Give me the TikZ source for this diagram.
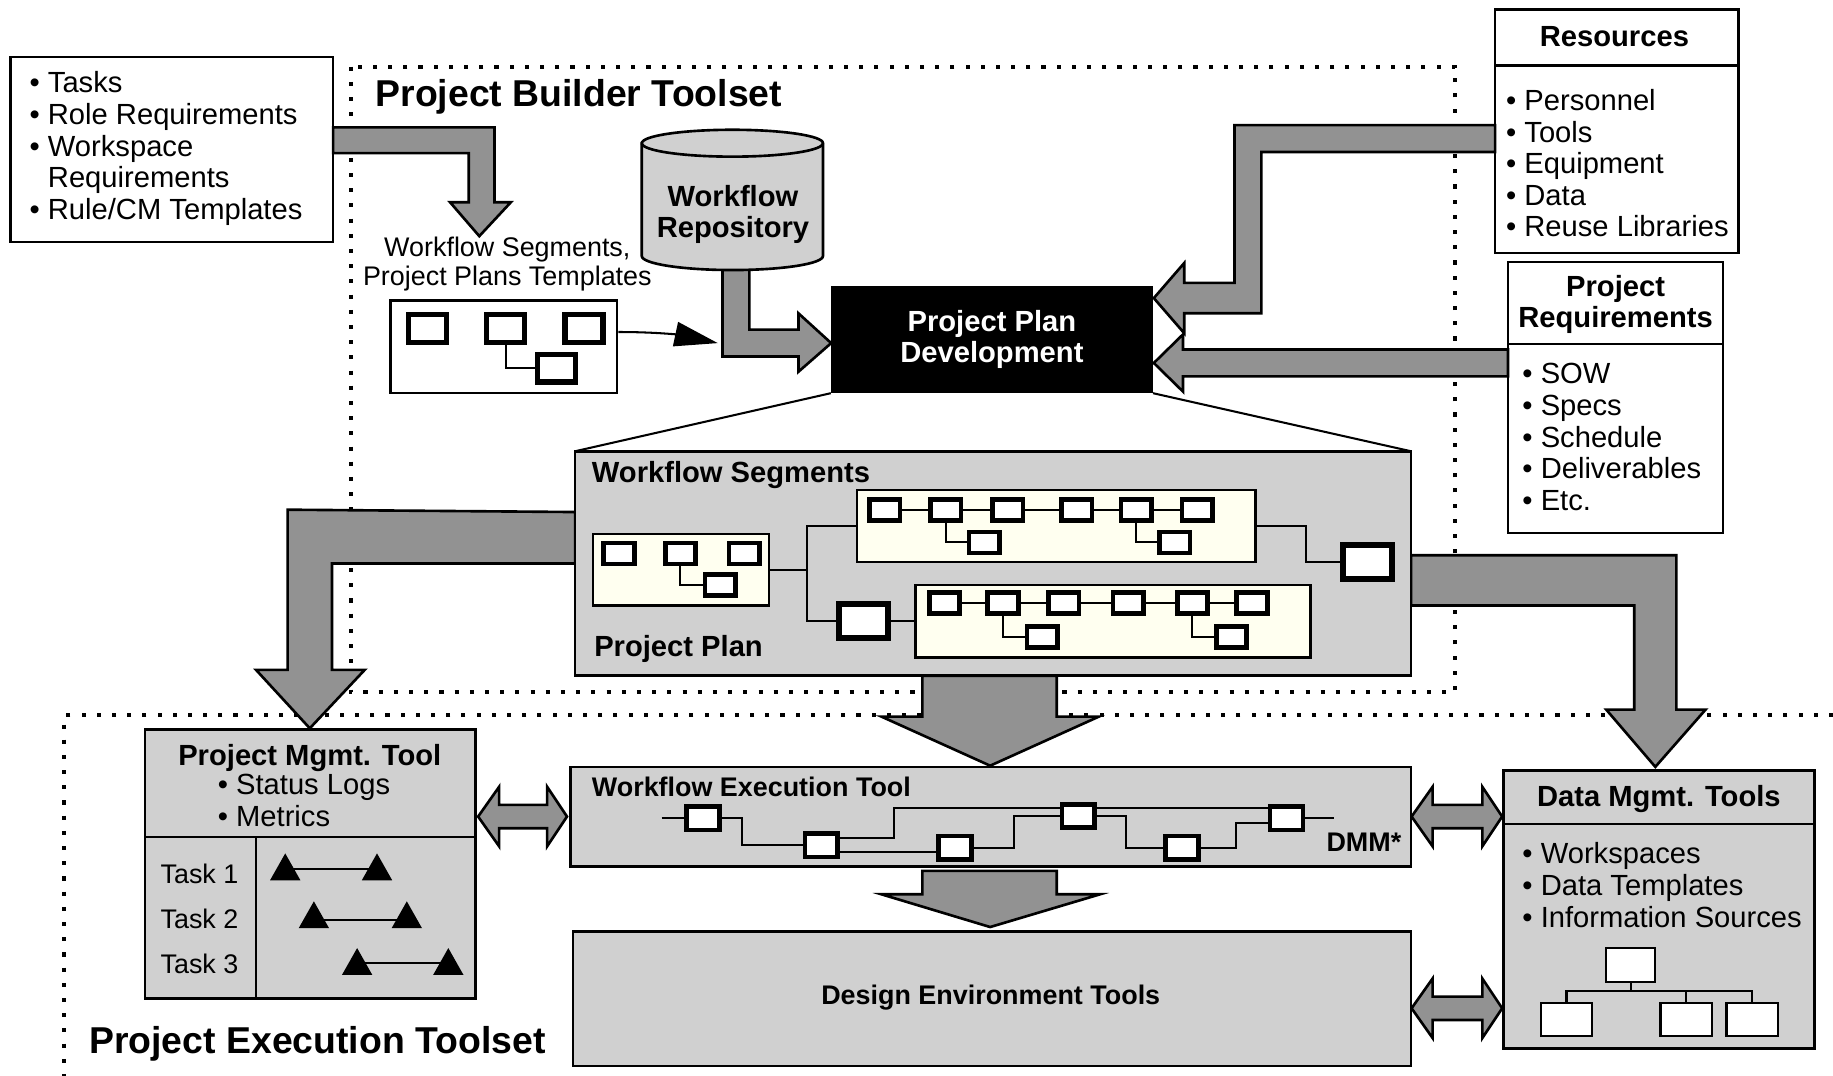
\documentclass[tikz,border=0pt]{standalone}
\usepackage{fontspec}
\setmainfont{Liberation Sans}
\usetikzlibrary{arrows.meta,calc}
\definecolor{arrowgray}{RGB}{146,146,146}
\definecolor{panelgray}{RGB}{208,208,208}
\definecolor{cream}{RGB}{255,255,240}
\def\milestone(#1,#2){\fill[line join=round] (#1-13,#2) -- (#1,#2-23) -- (#1+13,#2) -- cycle;}
\def\dblarrow(#1,#2,#3){\draw[blockarrow] (#1,#3) -- (#1+18,#3-25.5) -- (#1+18,#3-10) -- (#2-17,#3-10) -- (#2-17,#3-25.5) -- (#2,#3) -- (#2-17,#3+25.5) -- (#2-17,#3+10) -- (#1+18,#3+10) -- (#1+18,#3+25.5) -- cycle;}

\begin{document}
\begin{tikzpicture}[x=0.02cm, y=-0.02cm,
		txt/.style={font=\fontsize{14.2}{15.4}\selectfont, inner sep=0pt},
		smalltxt/.style={font=\fontsize{13.1}{14.2}\selectfont, inner sep=0pt},
		head/.style={font=\bfseries\fontsize{14.2}{15.1}\selectfont, inner sep=0pt},
		smallhead/.style={font=\bfseries\fontsize{13.1}{14.2}\selectfont, inner sep=0pt},
		title/.style={font=\bfseries\fontsize{18.2}{20}\selectfont, inner sep=0pt},
		frame/.style={line width=0.07cm, dash pattern=on 0.07cm off 0.19cm},
		blockarrow/.style={fill=arrowgray, draw=black, line width=0.045cm},
		panel/.style={fill=panelgray, draw=black, line width=0.045cm},
		cbox/.style={fill=cream, draw=black, line width=0.04cm, inner sep=0pt},
		sbox/.style={draw, fill=white, line width=0.08cm, inner sep=0pt, minimum width=0.52cm, minimum height=0.36cm},
		brbox/.style={sbox},
		bigbox/.style={sbox, line width=0.1cm, minimum width=0.84cm, minimum height=0.58cm},
		tbox/.style={sbox, line width=0.09cm, minimum width=0.65cm, minimum height=0.47cm},
		wbox/.style={sbox, minimum width=0.56cm, minimum height=0.4cm},
		obox/.style={sbox, line width=0.04cm, minimum width=0.88cm, minimum height=0.56cm},
		wire/.style={line width=0.035cm}]
			%%%%% START %%%%%
			\useasboundingbox (0,0) rectangle (1568,920);
			
			% toolset frames
			\draw[frame] (300,57) rectangle (1245,592);
			\draw[frame] (1568,612) -- (55,612) -- (55,920);
			
			% block arrows
			\draw[blockarrow] (285,109) -- (423,109) -- (423,173) -- (437,173) -- (410,202) -- (385,173) -- (401,173) -- (401,131) -- (285,131) -- cycle;
			\draw[blockarrow] (618,225) -- (641,225) -- (641,282) -- (683,282) -- (683,268) -- (711,293.5) -- (683,318) -- (683,305) -- (618,305) -- cycle;
			\draw[blockarrow] (1279,107) -- (1056,107) -- (1056,242) -- (1013,242) -- (1013,225) -- (987,255) -- (1013,285) -- (1013,268) -- (1079,268) -- (1079,130) -- (1279,130) -- cycle;
			\draw[blockarrow] (1290,299) -- (1012,299) -- (1012,286) -- (987,310.5) -- (1012,335) -- (1012,322) -- (1290,322) -- cycle;
			\draw[blockarrow] (492,438) -- (246,436) -- (246,573) -- (219,573) -- (265,623) -- (312,573) -- (284,573) -- (284,482) -- (492,482) -- cycle;
			\draw[blockarrow] (1207,475) -- (1434,475) -- (1434,607) -- (1459,607) -- (1416,656) -- (1374,607) -- (1398,607) -- (1398,518) -- (1207,518) -- cycle;
			\draw[blockarrow] (789,578) -- (904,578) -- (904,613) -- (940,613) -- (847,655) -- (754,613) -- (789,613) -- cycle;
			\draw[blockarrow] (789,745) -- (904,745) -- (904,765) -- (941,765) -- (847,793) -- (754,765) -- (789,765) -- cycle;
			\dblarrow(409,485,698.5)
			\dblarrow(1207.5,1285,698.5)
			\dblarrow(1207.5,1285,862.5)
			
			% inputs
			\draw[line width=0.04cm] (9,49) rectangle (285,207);
			\node[txt, anchor=north west, align=left] (tasklist) at (25,61) {\textbullet\ Tasks\\\textbullet\ Role Requirements\\\textbullet\ Workspace\\\phantom{\textbullet\ }Requirements\\\textbullet\ Rule/CM Templates};
			
			\draw[line width=0.04cm] (1279,8) rectangle (1487,216.5);
			\draw[line width=0.04cm] (1279,56) -- (1487,56);
			\node[head, anchor=base] (restitle) at (1381,39.5) {Resources};
			\node[txt, anchor=north west, align=left] (reslist) at (1288,76) {\textbullet\ Personnel\\\textbullet\ Tools\\\textbullet\ Equipment\\\textbullet\ Data\\\textbullet\ Reuse Libraries};
			
			\draw[line width=0.04cm] (1290,224) rectangle (1474,456);
			\draw[line width=0.04cm] (1290,294.5) -- (1474,294.5);
			\node[head, anchor=north, align=center] (prtitle) at (1382,235) {Project\\Requirements};
			\node[txt, anchor=north west, align=left] (prlist) at (1302,310.5) {\textbullet\ SOW\\\textbullet\ Specs\\\textbullet\ Schedule\\\textbullet\ Deliverables\\\textbullet\ Etc.};
			
			% project builder
			\node[title, anchor=base west] (pbt) at (321,91) {Project Builder Toolset};
			
			\draw[fill=panelgray, line width=0.045cm] (549,122.5) -- (549,219) arc[start angle=180, end angle=360, x radius=1.55cm, y radius=0.24cm] -- (704,122.5) arc[start angle=0, end angle=180, x radius=1.55cm, y radius=0.23cm] -- cycle;
			\draw[line width=0.045cm] (549,122.5) arc[start angle=180, end angle=360, x radius=1.55cm, y radius=0.23cm];
			\node[head, anchor=north, align=center] (repo) at (627,158) {Workflow\\Repository};
			
			\node[smalltxt, anchor=north, align=center] (tpltxt) at (434,202) {Workflow Segments,\\Project Plans Templates};
			\node[draw, line width=0.04cm, inner sep=0pt, minimum width=3.88cm, minimum height=1.58cm] (tpl) at (431,296.5) {};
			\node[tbox] (t1) at (365.5,281) {};
			\node[tbox] (t2) at (432.5,281) {};
			\node[tbox] (t3) at (499.5,281) {};
			\node[tbox] (t4) at (476,315) {};
			\draw[wire] (t2.south) |- (t4.west);
			\coordinate (reptip) at (614,293.5);
			\draw[wire, -{Triangle[length=0.74cm,width=0.42cm]}] ([yshift=0.25cm]tpl.east) to[out=0, in=168] (reptip);
			
			\node[head, fill=black, text=white, align=center, minimum width=5.5cm, minimum height=1.82cm] (ppd) at (848.5,290.5) {Project Plan\\Development};
			
			% workflow segments
			\draw[panel] (492,386) rectangle (1207,578);
			\coordinate (wsnw) at (492,386);
			\coordinate (wsne) at (1207,386);
			\draw[line width=0.035cm] (ppd.south west) -- (wsnw);
			\draw[line width=0.035cm] (ppd.south east) -- (wsne);
			\node[head, anchor=base west] (wslabel) at (506,413) {Workflow Segments};
			\node[head, anchor=base west] (pplabel) at (508,562) {Project Plan};
			
			\node[cbox, minimum width=3.02cm, minimum height=1.22cm] (lcream) at (582.5,487.5) {};
			\node[cbox, minimum width=6.82cm, minimum height=1.24cm] (tcream) at (903.5,450) {};
			\node[cbox, minimum width=6.76cm, minimum height=1.24cm] (bcream) at (952,531.5) {};
			
			\node[sbox] (l1) at (529.5,473.5) {};
			\node[sbox] (l2) at (582,473.5) {};
			\node[sbox] (l3) at (636.5,473.5) {};
			\node[brbox] (l4) at (616,500.5) {};
			\draw[wire] (l2.south) |- (l4.west);
			
			\node[sbox] (a1) at (757,436.5) {};
			\node[sbox] (a2) at (809,436.5) {};
			\node[sbox] (a3) at (862,436.5) {};
			\node[sbox] (a4) at (921,436.5) {};
			\node[sbox] (a5) at (972,436.5) {};
			\node[sbox] (a6) at (1024,436.5) {};
			\node[brbox] (a7) at (842,464) {};
			\node[brbox] (a8) at (1005,464) {};
			\draw[wire] (a1) -- (a2) -- (a3) -- (a4) -- (a5) -- (a6);
			\draw[wire] (a2.south) |- (a7.west);
			\draw[wire] (a5.south) |- (a8.west);
			
			\node[sbox] (c1) at (808,516) {};
			\node[sbox] (c2) at (858,516) {};
			\node[sbox] (c3) at (910,516) {};
			\node[sbox] (c4) at (965,516) {};
			\node[sbox] (c5) at (1020,516) {};
			\node[sbox] (c6) at (1071,516) {};
			\node[brbox] (c7) at (891.5,545) {};
			\node[brbox] (c8) at (1053.5,545) {};
			\draw[wire] (c1) -- (c2) -- (c3) -- (c4) -- (c5) -- (c6);
			\draw[wire] (c2.south) |- (c7.west);
			\draw[wire] (c5.south) |- (c8.west);
			
			\node[bigbox] (bigl) at (738.5,531.5) {};
			\node[bigbox] (bigr) at (1170,480.5) {};
			\coordinate (jn) at (691,487.5);
			\draw[wire] (lcream.east) -- (jn);
			\draw[wire] (tcream.west) -- ++(-42,0) |- (bigl.west);
			\draw[wire] (bigl.east) -- (bcream.west);
			\draw[wire] (tcream.east) -- ++(42,0) |- (bigr.west);
			
			% project execution
			\node[title, anchor=base west] (pet) at (76,901.5) {Project Execution Toolset};
			
			\draw[panel] (124,624) rectangle (406.5,854);
			\draw[line width=0.04cm] (124,716) -- (406.5,716);
			\draw[line width=0.04cm] (219,716) -- (219,854);
			\node[head, anchor=base] (pmttitle) at (265,654.5) {Project Mgmt. Tool};
			\node[txt, anchor=north west, align=left] (pmtlist) at (186,662) {\textbullet\ Status Logs\\\textbullet\ Metrics};
			\node[smalltxt, anchor=base west] (task1) at (137,755.5) {Task 1};
			\node[smalltxt, anchor=base west] (task2) at (137,794) {Task 2};
			\node[smalltxt, anchor=base west] (task3) at (137,832.5) {Task 3};
			\draw[wire] (244,743.5) -- (322.5,743.5);
			\draw[wire] (268.5,787) -- (348,787);
			\draw[wire] (305.5,824) -- (383.5,824);
			\milestone(244,753)
			\milestone(322.5,753)
			\milestone(268.5,794)
			\milestone(348,794)
			\milestone(305.5,834)
			\milestone(383.5,834)
			
			\draw[panel] (488,656) rectangle (1207,741);
			\node[smallhead, anchor=base west] (wetlabel) at (506,681) {Workflow Execution Tool};
			\node[smallhead, anchor=base east] (dmm) at (1199,728) {DMM*};
			\node[wbox] (b1) at (601.5,700) {};
			\node[wbox] (b2) at (702.5,723) {};
			\node[wbox] (b3) at (817,725) {};
			\node[wbox] (b4) at (922.5,698) {};
			\node[wbox] (b5) at (1011,725) {};
			\node[wbox] (b6) at (1100.5,700) {};
			\coordinate (win) at (566,700);
			\coordinate (wout) at (1141,700);
			\draw[wire] (win) -- (b1.west);
			\draw[wire] (b1.east) -- ++(17,0) |- (b2.west);
			\draw[wire] ([yshift=0.12cm]b2.east) -- ++(46,0) |- ([yshift=0.13cm]b4.west);
			\draw[wire] ([yshift=0.13cm]b4.east) -- ([yshift=0.13cm]b4.east -| b6.west);
			\draw[wire] ([yshift=-0.12cm]b2.east) -- ([yshift=-0.12cm]b2.east -| b3.west);
			\draw[wire] (b3.east) -- ++(34,0) |- (b4.west);
			\draw[wire] (b4.east) -- ++(25,0) |- (b5.west);
			\draw[wire] (b5.east) -- ++(30,0) |- ([yshift=-0.08cm]b6.west);
			\draw[wire] (b6.east) -- (wout);
			
			\draw[panel] (490,797) rectangle (1207,912);
			\node[smallhead, anchor=base] (detlabel) at (847.5,859) {Design Environment Tools};
			
			\draw[panel] (1286,659) rectangle (1552,897);
			\draw[line width=0.04cm] (1286,705) -- (1552,705);
			\node[head, anchor=base] (dmttitle) at (1419,690) {Data Mgmt. Tools};
			\node[txt, anchor=north west, align=left] (dmtlist) at (1302,720.5) {\textbullet\ Workspaces\\\textbullet\ Data Templates\\\textbullet\ Information Sources};
			\node[obox, minimum width=0.84cm, minimum height=0.58cm] (otop) at (1395,825.5) {};
			\node[obox] (o1) at (1340,872) {};
			\node[obox] (o2) at (1442.5,872) {};
			\node[obox] (o3) at (1499,872) {};
			\coordinate (bus) at (1395,848);
			\draw[wire] (otop.south) -- (bus);
			\draw[wire] (o1.north) |- (o3.north |- bus) -- (o3.north);
			\draw[wire] (o2.north) -- (o2.north |- bus);
			
			%%%%% END %%%%%
\end{tikzpicture}
\end{document}
